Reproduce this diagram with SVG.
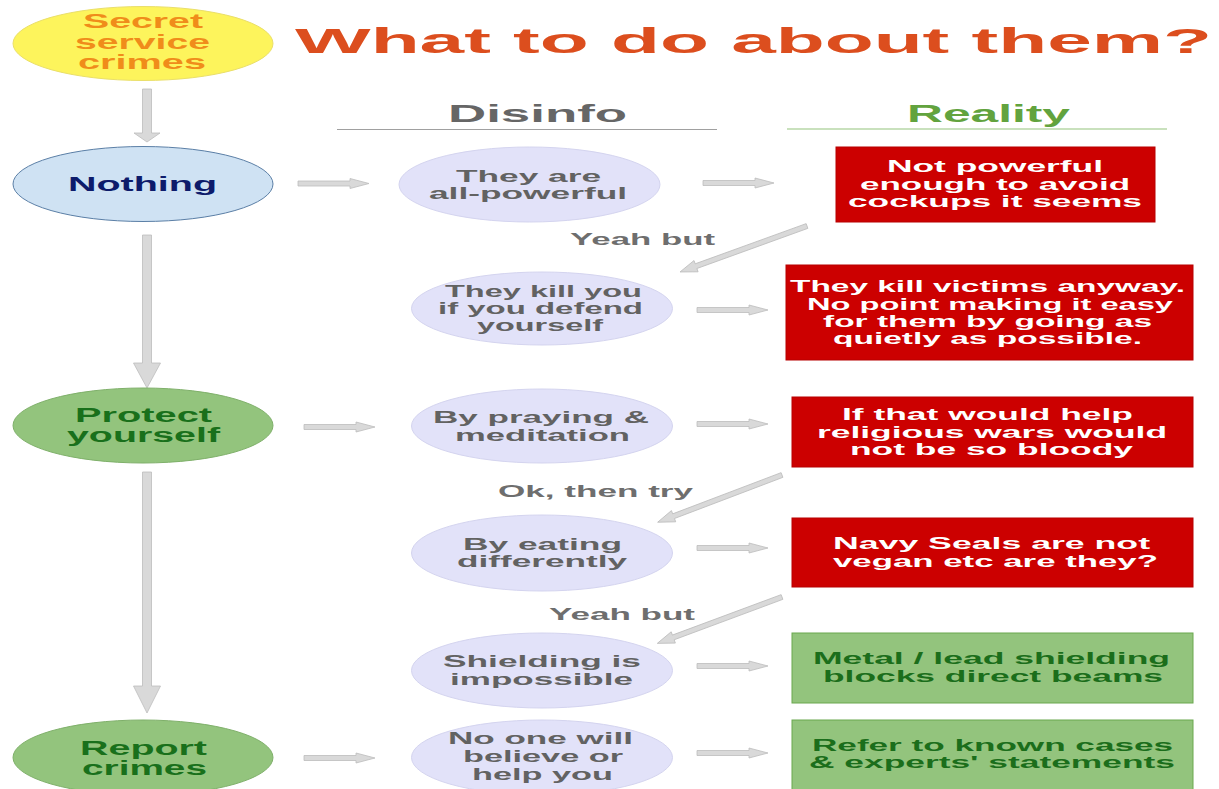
<svg xmlns="http://www.w3.org/2000/svg" xmlns:xlink="http://www.w3.org/1999/xlink" width="1219" height="789" viewBox="0 0 1219 789">
<style>
text{font-family:"Liberation Sans",Arial,sans-serif;font-weight:bold}
.t{font-size:35px;fill:#dc4e1e}
.h{font-size:24px}
.big{font-size:20px}
.mid{font-size:16.5px;fill:#626262}
.lbl{font-size:17px;fill:#6e6e6e}
.rt{font-size:16px;fill:#ffffff}
.gt{font-size:16px;fill:#1b6e1b}
.dis{fill:#e2e2f9;stroke:#d4d4ef;stroke-width:1}
.red{fill:#cc0000;stroke:#b80000;stroke-width:1}
.grn{fill:#93c47d;stroke:#6aa84f;stroke-width:1}
.arr{fill:#d9d9d9;stroke:#bdbdbd;stroke-width:0.8}
</style>
<defs>
<path id="harr" class="arr" d="M0,-2.5 H52 V-5 L71,0 L52,5 V2.5 H0 Z"/>
</defs>
<rect width="1219" height="789" fill="#ffffff"/>

<g id="title">
<text class="t" x="295" y="53" textLength="917" lengthAdjust="spacingAndGlyphs">What to do about them?</text>
</g>
<g id="header-disinfo">
<text class="h" x="448" y="122" textLength="179" lengthAdjust="spacingAndGlyphs" fill="#666666">Disinfo</text>
<line x1="337" y1="129.5" x2="717" y2="129.5" stroke="#a0a0a0" stroke-width="1.2"/>
</g>
<g id="header-reality">
<text class="h" x="907" y="122" textLength="163" lengthAdjust="spacingAndGlyphs" fill="#62a33e">Reality</text>
<line x1="787" y1="129" x2="1167" y2="129" stroke="#93c47d" stroke-width="1.2"/>
</g>

<g id="connectors">
<path class="arr" d="M142.5,89 H151.5 V133 H160 L147,142 L134,133 H142.5 Z"/>
<path class="arr" d="M142.5,235 H151.5 V363 H160.5 L147,388 L133.5,363 H142.5 Z"/>
<path class="arr" d="M142.5,472 H151.5 V686 H160.5 L147,713 L133.5,686 H142.5 Z"/>
<use xlink:href="#harr" x="298" y="183.5"/>
<use xlink:href="#harr" x="304" y="427"/>
<use xlink:href="#harr" x="304" y="758"/>
<use xlink:href="#harr" x="703" y="183"/>
<use xlink:href="#harr" x="697" y="310"/>
<use xlink:href="#harr" x="697" y="424"/>
<use xlink:href="#harr" x="697" y="548"/>
<use xlink:href="#harr" x="697" y="666"/>
<use xlink:href="#harr" x="697" y="753"/>
<path class="arr" transform="translate(807,226) rotate(160.1)" d="M0,-2.5 H118 V-6 L135,0 L118,6 V2.5 H0 Z"/>
<path class="arr" transform="translate(782,475) rotate(159.2)" d="M0,-2.5 H116 V-6 L133,0 L116,6 V2.5 H0 Z"/>
<path class="arr" transform="translate(782,597) rotate(159.6)" d="M0,-2.5 H116 V-6 L133,0 L116,6 V2.5 H0 Z"/>
<text class="lbl" x="570" y="245" textLength="145" lengthAdjust="spacingAndGlyphs">Yeah but</text>
<text class="lbl" x="498" y="497" textLength="195" lengthAdjust="spacingAndGlyphs">Ok, then try</text>
<text class="lbl" x="549" y="620" textLength="146" lengthAdjust="spacingAndGlyphs">Yeah but</text>
</g>

<g id="secret">
<ellipse cx="143" cy="43.5" rx="130" ry="37" fill="#fdf45c" stroke="#eadf6a" stroke-width="1"/>
<text class="big" style="font-size:19.5px" fill="#f08c1a" x="83" y="28" textLength="120" lengthAdjust="spacingAndGlyphs">Secret</text>
<text class="big" style="font-size:19.5px" fill="#f08c1a" x="75" y="49" textLength="135" lengthAdjust="spacingAndGlyphs">service</text>
<text class="big" style="font-size:19.5px" fill="#f08c1a" x="78" y="69" textLength="128" lengthAdjust="spacingAndGlyphs">crimes</text>
</g>
<g id="nothing">
<ellipse cx="143" cy="184" rx="130" ry="37.5" fill="#cfe2f3" stroke="#5b7fa6" stroke-width="1"/>
<text class="big" fill="#0d1b6b" x="68" y="191" textLength="149" lengthAdjust="spacingAndGlyphs">Nothing</text>
</g>
<g id="protect">
<ellipse cx="143" cy="425.5" rx="130" ry="37.5" fill="#93c47d" stroke="#7fb06a" stroke-width="1"/>
<text class="big" fill="#19701b" x="75" y="422" textLength="137" lengthAdjust="spacingAndGlyphs">Protect</text>
<text class="big" fill="#19701b" x="67" y="442" textLength="153" lengthAdjust="spacingAndGlyphs">yourself</text>
</g>
<g id="report">
<ellipse cx="143" cy="757.5" rx="130" ry="37.5" fill="#93c47d" stroke="#7fb06a" stroke-width="1"/>
<text class="big" fill="#19701b" x="80" y="755" textLength="127" lengthAdjust="spacingAndGlyphs">Report</text>
<text class="big" fill="#19701b" x="82" y="775" textLength="125" lengthAdjust="spacingAndGlyphs">crimes</text>
</g>

<g id="all-powerful">
<ellipse class="dis" cx="529.5" cy="184.5" rx="130.5" ry="37.5"/>
<text class="mid" x="456" y="182" textLength="145" lengthAdjust="spacingAndGlyphs">They are</text>
<text class="mid" x="429" y="199" textLength="198" lengthAdjust="spacingAndGlyphs">all-powerful</text>
</g>
<g id="kill-you">
<ellipse class="dis" cx="542" cy="308.5" rx="130.5" ry="36.5"/>
<text class="mid" x="445" y="297" textLength="197" lengthAdjust="spacingAndGlyphs">They kill you</text>
<text class="mid" x="438" y="314" textLength="205" lengthAdjust="spacingAndGlyphs">if you defend</text>
<text class="mid" x="477" y="331" textLength="126" lengthAdjust="spacingAndGlyphs">yourself</text>
</g>
<g id="praying">
<ellipse class="dis" cx="542" cy="426" rx="130.5" ry="37"/>
<text class="mid" x="433" y="423" textLength="216" lengthAdjust="spacingAndGlyphs">By praying &amp;</text>
<text class="mid" x="455" y="441" textLength="175" lengthAdjust="spacingAndGlyphs">meditation</text>
</g>
<g id="eating">
<ellipse class="dis" cx="542" cy="553" rx="130.5" ry="38"/>
<text class="mid" x="463" y="550" textLength="159" lengthAdjust="spacingAndGlyphs">By eating</text>
<text class="mid" x="457" y="567" textLength="170" lengthAdjust="spacingAndGlyphs">differently</text>
</g>
<g id="shielding">
<ellipse class="dis" cx="542" cy="670.5" rx="130.5" ry="37.5"/>
<text class="mid" x="443" y="667" textLength="198" lengthAdjust="spacingAndGlyphs">Shielding is</text>
<text class="mid" x="450" y="685" textLength="183" lengthAdjust="spacingAndGlyphs">impossible</text>
</g>
<g id="no-one">
<ellipse class="dis" cx="542" cy="757.5" rx="130.5" ry="37.5"/>
<text class="mid" x="448" y="744" textLength="185" lengthAdjust="spacingAndGlyphs">No one will</text>
<text class="mid" x="463" y="762" textLength="160" lengthAdjust="spacingAndGlyphs">believe or</text>
<text class="mid" x="472" y="780" textLength="141" lengthAdjust="spacingAndGlyphs">help you</text>
</g>

<g id="not-powerful">
<rect class="red" x="836" y="147" width="319" height="75"/>
<text class="rt" x="887" y="172" textLength="216" lengthAdjust="spacingAndGlyphs">Not powerful</text>
<text class="rt" x="860" y="190" textLength="270" lengthAdjust="spacingAndGlyphs">enough to avoid</text>
<text class="rt" x="848" y="207" textLength="294" lengthAdjust="spacingAndGlyphs">cockups it seems</text>
</g>
<g id="kill-anyway">
<rect class="red" x="786" y="265" width="407" height="95"/>
<text class="rt" x="790" y="292" textLength="395" lengthAdjust="spacingAndGlyphs">They kill victims anyway.</text>
<text class="rt" x="807" y="309.5" textLength="366" lengthAdjust="spacingAndGlyphs">No point making it easy</text>
<text class="rt" x="823" y="326.5" textLength="329" lengthAdjust="spacingAndGlyphs">for them by going as</text>
<text class="rt" x="833" y="343.5" textLength="309" lengthAdjust="spacingAndGlyphs">quietly as possible.</text>
</g>
<g id="religious-wars">
<rect class="red" x="792" y="397" width="401" height="70"/>
<text class="rt" x="842" y="420" textLength="291" lengthAdjust="spacingAndGlyphs">If that would help</text>
<text class="rt" x="817" y="438" textLength="350" lengthAdjust="spacingAndGlyphs">religious wars would</text>
<text class="rt" x="850" y="455" textLength="283" lengthAdjust="spacingAndGlyphs">not be so bloody</text>
</g>
<g id="navy-seals">
<rect class="red" x="792" y="518" width="401" height="69"/>
<text class="rt" x="833" y="549" textLength="317" lengthAdjust="spacingAndGlyphs">Navy Seals are not</text>
<text class="rt" x="833" y="567" textLength="325" lengthAdjust="spacingAndGlyphs">vegan etc are they?</text>
</g>
<g id="metal-shielding">
<rect class="grn" x="792" y="633" width="401" height="70"/>
<text class="gt" x="813" y="664" textLength="357" lengthAdjust="spacingAndGlyphs">Metal / lead shielding</text>
<text class="gt" x="823" y="682" textLength="340" lengthAdjust="spacingAndGlyphs">blocks direct beams</text>
</g>
<g id="known-cases">
<rect class="grn" x="792" y="720" width="401" height="70"/>
<text class="gt" x="812" y="751" textLength="361" lengthAdjust="spacingAndGlyphs">Refer to known cases</text>
<text class="gt" x="809" y="768" textLength="366" lengthAdjust="spacingAndGlyphs">&amp; experts' statements</text>
</g>
</svg>
